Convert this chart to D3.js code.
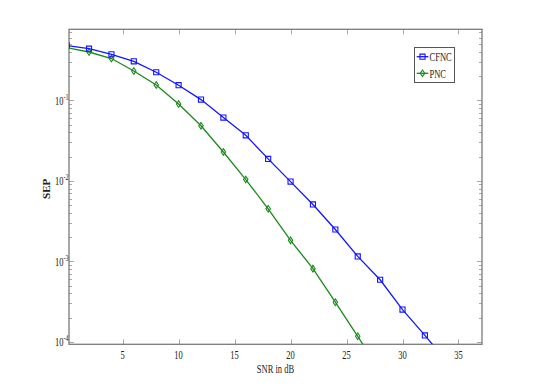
<!DOCTYPE html>
<html><head><meta charset="utf-8">
<script src="https://cdn.jsdelivr.net/npm/d3@7"></script>
<style>html,body{margin:0;padding:0;background:#fff;}svg{display:block;}</style>
</head><body>
<svg id="c" width="533" height="388"></svg>
<script>
const snrCFNC = [0,2,4,6,8,10,12,14,16,18,20,22,24,26,28,30,32,34];
const sepCFNC = [0.48,0.438,0.372,0.305,0.223,0.154,0.102,0.0610,0.0367,0.0187,0.00977,0.00508,0.00248,0.00115,5.89e-4,2.51e-4,1.20e-4,5.6e-5];
const snrPNC = [0,2,4,6,8,10,12,14,16,18,20,22,24,26,28];
const sepPNC = [0.45,0.398,0.330,0.231,0.155,0.0900,0.0482,0.0228,0.01035,0.00449,0.00182,8.1e-4,3.10e-4,1.17e-4,4.3e-5];
const xTicks = [5,10,15,20,25,30,35];
const yTicks = [1e-1,1e-2,1e-3,1e-4];
const yTickExp = ["-1","-2","-3","-4"];
const seriesNames = ["CFNC","PNC"];

const L=69, R=482, T=29.3, B=344.3;
const SX = 0.68, FS = 12.5;
const svg = d3.select("#c");
const x = d3.scaleLinear().domain([0.21,37.1]).range([L,R]);
const y = d3.scaleLog().domain([9.3e-5,0.762]).range([B,T]);

const axisCol="#7a7a7a", tickCol="#a8a8a8";
const font="'Liberation Serif','Times New Roman',serif";

// minor log ticks
const minor=[];
for(let e=-5;e<=0;e++){for(let m=2;m<=9;m++){const v=m*Math.pow(10,e); if(v>=y.domain()[0]&&v<=y.domain()[1]) minor.push(v);}}
const tg=svg.append("g").attr("stroke",tickCol).attr("stroke-width",1);
minor.forEach(v=>{const yy=Math.round(y(v))+0.5;
  tg.append("line").attr("x1",L).attr("x2",L+3).attr("y1",yy).attr("y2",yy);
  tg.append("line").attr("x1",R-3).attr("x2",R).attr("y1",yy).attr("y2",yy);});
yTicks.forEach(v=>{const yy=Math.round(y(v))+0.5;
  tg.append("line").attr("x1",L).attr("x2",L+5).attr("y1",yy).attr("y2",yy);
  tg.append("line").attr("x1",R-5).attr("x2",R).attr("y1",yy).attr("y2",yy);});
xTicks.forEach(v=>{const xx=Math.round(x(v))+0.5;
  tg.append("line").attr("x1",xx).attr("x2",xx).attr("y1",B).attr("y2",B-5);
  tg.append("line").attr("x1",xx).attr("x2",xx).attr("y1",T).attr("y2",T+5);});

// frame
svg.append("rect").attr("x",L).attr("y",T).attr("width",R-L).attr("height",B-T)
  .attr("fill","none").attr("stroke",axisCol).attr("stroke-width",1.3);

// x tick labels
xTicks.forEach(v=>{
  svg.append("g").attr("transform",`translate(${x(v)},${B+14.3}) scale(${SX},1)`)
    .append("text").attr("text-anchor","middle").attr("font-family",font).attr("font-size",FS).attr("fill","#222").text(v);
});
// y tick labels
yTicks.forEach((v,i)=>{
  const t=svg.append("g").attr("transform",`translate(${L-0.5},${y(v)+4.5}) scale(${SX},1)`)
    .append("text").attr("text-anchor","end").attr("font-family",font).attr("font-size",FS).attr("fill","#222");
  t.append("tspan").text("10");
  t.append("tspan").attr("font-size",9).attr("dy",-5).text(yTickExp[i]);
});
// axis titles
svg.append("g").attr("transform",`translate(${(L+R)/2},372.6) scale(${SX},1)`)
  .append("text").attr("text-anchor","middle").attr("font-family",font).attr("font-size",FS).attr("fill","#222").text("SNR in dB");
svg.append("text").attr("transform",`translate(49.5,${(T+B)/2+2}) rotate(-90)`)
  .attr("text-anchor","middle").attr("font-family",font).attr("font-size",11).attr("font-weight","bold").attr("fill","#222").text("SEP");

// clip
svg.append("clipPath").attr("id","clip").append("rect").attr("x",L).attr("y",T).attr("width",R-L).attr("height",B-T);
const plot=svg.append("g").attr("clip-path","url(#clip)");
const line=d3.line().x(d=>x(d[0])).y(d=>y(d[1]));

const colors=["#1414ff","#1a8a1a"];
const dataC=snrCFNC.map((s,i)=>[s,sepCFNC[i]]);
const dataP=snrPNC.map((s,i)=>[s,sepPNC[i]]);
const sq=d3.symbol().type(d3.symbolSquare).size(26);
const diamond="M0,-3.3L2.2,0L0,3.3L-2.2,0Z";

plot.append("path").datum(dataP).attr("d",line).attr("fill","none").attr("stroke",colors[1]).attr("stroke-width",1.3);
plot.selectAll(".mp").data(dataP).join("path").attr("d",diamond)
  .attr("transform",d=>`translate(${x(d[0])},${y(d[1])})`).attr("fill","none").attr("stroke",colors[1]).attr("stroke-width",1.1);
plot.append("path").datum(dataC).attr("d",line).attr("fill","none").attr("stroke",colors[0]).attr("stroke-width",1.3);
plot.selectAll(".mc").data(dataC).join("path").attr("d",sq())
  .attr("transform",d=>`translate(${x(d[0])},${y(d[1])})`).attr("fill","none").attr("stroke",colors[0]).attr("stroke-width",1.1);

// legend
const lg=svg.append("g");
lg.append("rect").attr("x",414.5).attr("y",47.5).attr("width",40).attr("height",35).attr("fill","#fff").attr("stroke","#555").attr("stroke-width",1);
const ly=[56.7,73.3];
seriesNames.forEach((n,i)=>{
  lg.append("line").attr("x1",416.7).attr("x2",428.3).attr("y1",ly[i]).attr("y2",ly[i]).attr("stroke",colors[i]).attr("stroke-width",1.3);
  lg.append("path").attr("d",i===0?sq():diamond).attr("transform",`translate(422.5,${ly[i]})`).attr("fill","none").attr("stroke",colors[i]).attr("stroke-width",1.1);
  lg.append("g").attr("transform",`translate(429.5,${ly[i]+4.2}) scale(${SX},1)`)
    .append("text").attr("font-family",font).attr("font-size",FS).attr("fill","#222").text(n);
});
</script>
</body></html>
